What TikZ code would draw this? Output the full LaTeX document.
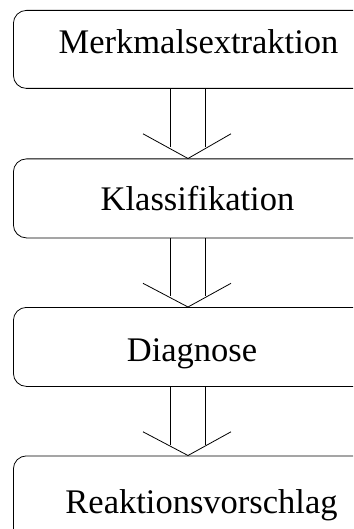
\documentclass[tikz,border=0pt]{standalone}
\usepackage{fontspec}
\setmainfont{Liberation Serif}
\usetikzlibrary{calc}
\begin{document}
\begin{tikzpicture}[x=1pt,y=-1pt,
  stage/.style={draw, rounded corners=13pt, line width=0.8pt, minimum width=372pt,
                anchor=north west, inner sep=0pt},
  stagetext/.style={anchor=base, inner sep=0pt, font=\fontsize{34.5}{40}\selectfont},
  flow/.style={line width=0.8pt},
]
\useasboundingbox (0,0) rectangle (353,529);
\begin{scope}
  \clip (0,0) rectangle (353,529);
  % process stages
  \node[stage, minimum height=78pt]  (b1) at (13,10)  {};
  \node[stage, minimum height=79pt]  (b2) at (13,158.5) {};
  \node[stage, minimum height=79pt]  (b3) at (13,307) {};
  \node[stage, minimum height=120pt] (b4) at (13,455.5) {};
  % stage names
  \node[stagetext] (t1) at (198.5,54)  {Merkmalsextraktion};
  \node[stagetext] (t2) at (197.5,211) {Klassifikation};
  \node[stagetext] (t3) at (192,361)   {Diagnose};
  \node[stagetext] (t4) at (201.5,513) {Reaktionsvorschlag};
  % open double-shaft arrows between consecutive stages
  \foreach \a/\b in {b1/b2, b2/b3, b3/b4}{
    \draw[flow] ($(\a.south west)+(157,0)$) -- ++(0,58);
    \draw[flow] ($(\a.south west)+(192.7,0)$) -- ++(0,58);
    \draw[flow] ($(\a.south west)+(130,45)$) -- ($(\b.north west)+(175,0)$)
                -- ($(\a.south west)+(218,45)$);
  }
\end{scope}
\end{tikzpicture}
\end{document}
